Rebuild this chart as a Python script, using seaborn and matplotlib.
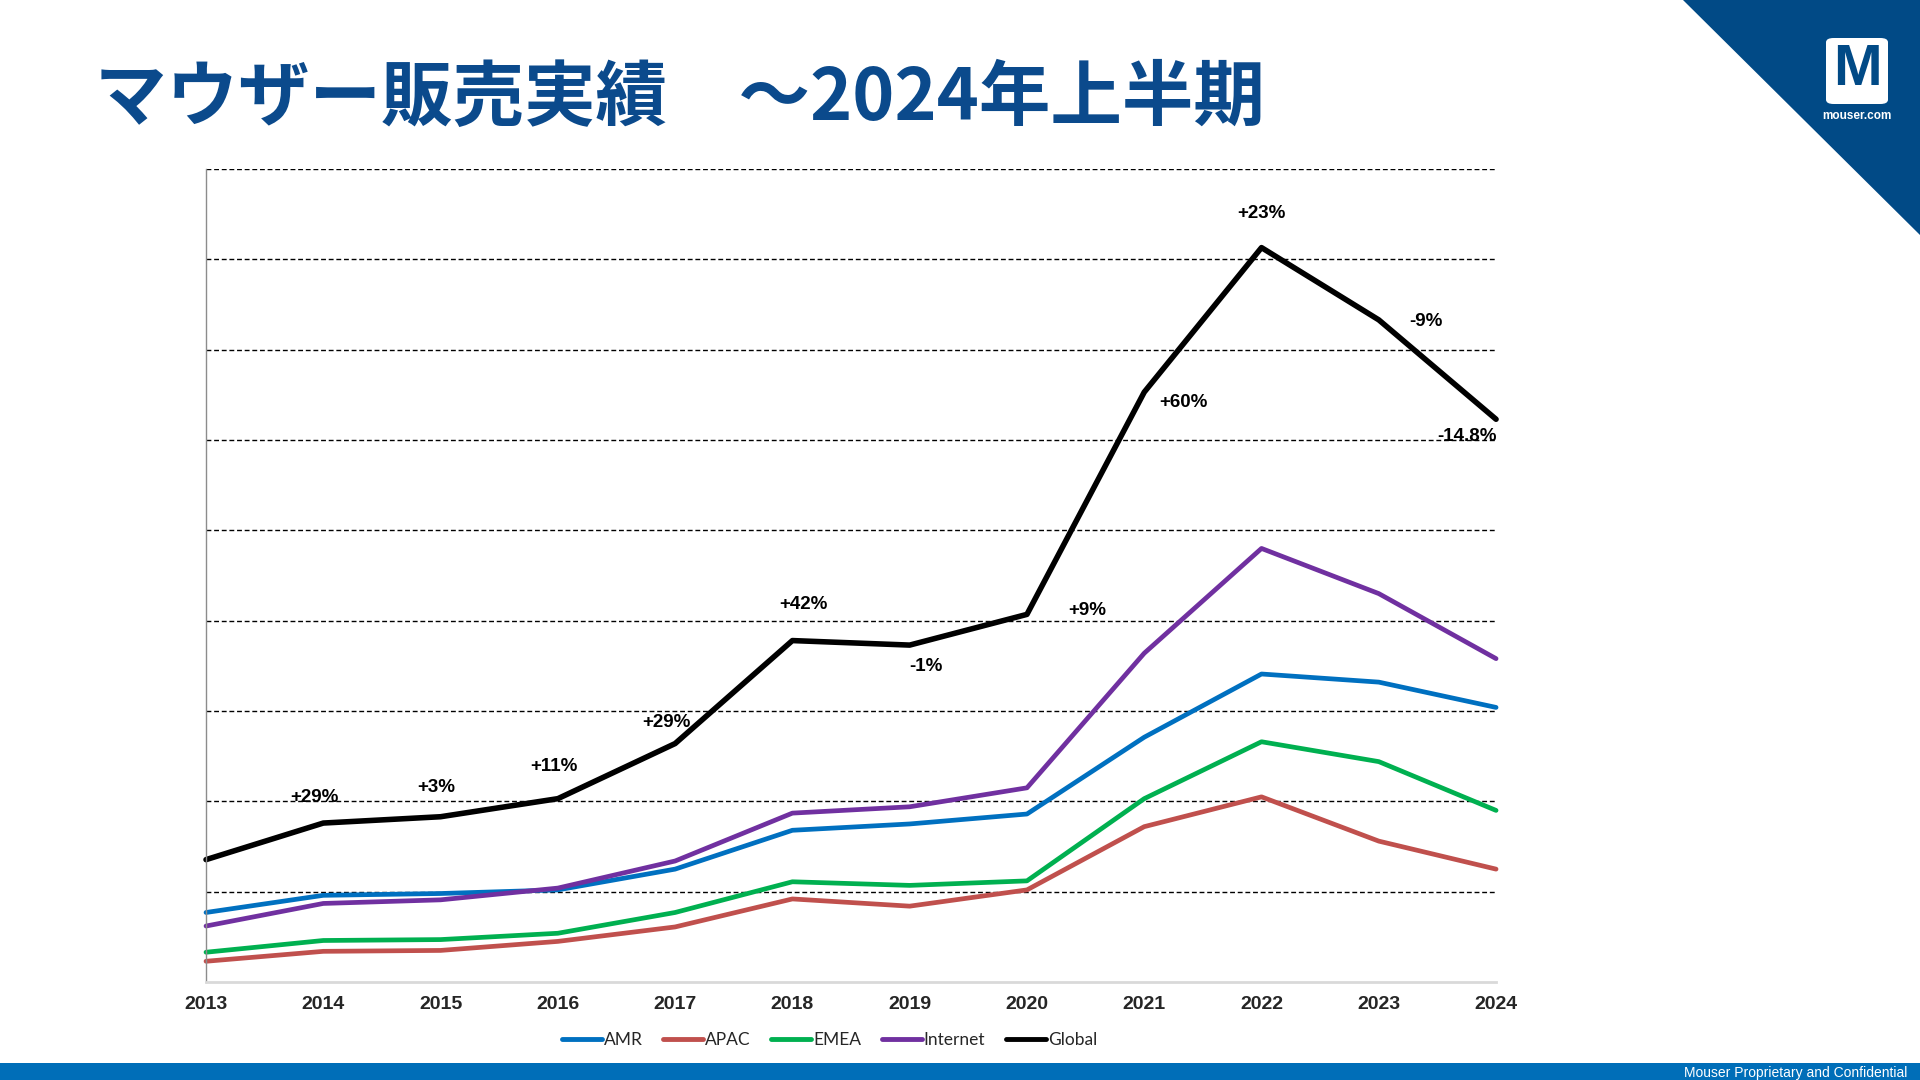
import matplotlib
matplotlib.use("Agg")
import matplotlib.pyplot as plt
import seaborn as sns
import pandas as pd
from matplotlib.patches import Polygon, Rectangle, FancyBboxPatch

# ---------------- data ----------------
years = [2013, 2014, 2015, 2016, 2017, 2018, 2019, 2020, 2021, 2022, 2023, 2024]
amr      = [0.77, 0.96, 0.98, 1.02, 1.25, 1.68, 1.75, 1.86, 2.71, 3.41, 3.32, 3.04]
apac     = [0.23, 0.34, 0.35, 0.45, 0.61, 0.92, 0.84, 1.02, 1.72, 2.05, 1.56, 1.25]
emea     = [0.33, 0.46, 0.47, 0.54, 0.77, 1.11, 1.07, 1.12, 2.03, 2.66, 2.44, 1.90]
internet = [0.62, 0.87, 0.91, 1.04, 1.34, 1.87, 1.94, 2.15, 3.64, 4.80, 4.30, 3.58]
global_  = [1.355, 1.76, 1.83, 2.03, 2.64, 3.78, 3.73, 4.07, 6.53, 8.13, 7.33, 6.23]
series_names = ["AMR", "APAC", "EMEA", "Internet", "Global"]
growth_labels = ["+29%", "+3%", "+11%", "+29%", "+42%", "-1%", "+9%", "+60%", "+23%", "-9%", "-14.8%"]
title_text = "マウザー販売実績　～2024年上半期"

# ---------------- style ----------------
colors = {"AMR": "#0070C0", "APAC": "#C0504D", "EMEA": "#00B050",
          "Internet": "#7030A0", "Global": "#000000"}
widths = {"AMR": 3.4, "APAC": 3.4, "EMEA": 3.4, "Internet": 3.4, "Global": 4.0}
# label offsets (pixels) relative to the Global point of each year 2014..2024
label_offsets = [(-9, 26), (-4, 29), (-4, 32), (-9, 21), (11, 36), (16, -21),
                 (60, 4), (39, -10), (0, 34), (47, -2), (-29, -17)]

sns.set_theme(style="white")
plt.rcParams['font.family'] = ['Liberation Sans', 'DejaVu Sans']

fig = plt.figure(figsize=(19.2, 10.8), dpi=100)
fig.patch.set_facecolor("white")
ax = fig.add_axes([0.1073, 0.0907, 0.6719, 0.7528])

values = {"AMR": amr, "APAC": apac, "EMEA": emea, "Internet": internet, "Global": global_}
df = pd.DataFrame([(y, n, v) for n in series_names for y, v in zip(years, values[n])],
                  columns=["year", "series", "value"])

for n in series_names:
    sub = df[df["series"] == n]
    sns.lineplot(data=sub, x="year", y="value", color=colors[n], linewidth=widths[n],
                 label=n, ax=ax, clip_on=False, solid_joinstyle="round", legend=False)

ax.set_xlim(2013, 2024)
ax.set_ylim(0, 9)
ax.set_yticks(range(1, 10))
ax.set_yticklabels([])
ax.yaxis.grid(True, color="black", linestyle=(0, (3.5, 2)), linewidth=1.0)
ax.xaxis.grid(False)
ax.set_xlabel("")
ax.set_ylabel("")
ax.set_xticks(years)
ax.set_xticklabels([str(y) for y in years], fontweight="bold", fontsize=14,
                   color="#262626", family=['Liberation Sans Narrow', 'Liberation Sans'])
ax.tick_params(axis="both", length=0)
ax.tick_params(axis="x", pad=10)
for s in ["top", "right"]:
    ax.spines[s].set_visible(False)
ax.spines["left"].set_color("#8c8c8c")
ax.spines["left"].set_linewidth(1.0)
ax.spines["bottom"].set_color("#d9d9d9")
ax.spines["bottom"].set_linewidth(2.0)

for lab, yr, val, off in zip(growth_labels, years[1:], global_[1:], label_offsets):
    ax.annotate(lab, (yr, val), xytext=off, textcoords="offset pixels",
                ha="center", va="center", fontsize=13.5, fontweight="bold", color="black")

handles, labels = ax.get_legend_handles_labels()
leg = fig.legend(handles, labels, loc="center", bbox_to_anchor=(0.432, 0.037),
                 ncol=5, frameon=False, handlelength=2.3, handletextpad=0.1,
                 columnspacing=1.2, prop={"family": "Lato", "size": 12.5})
for t in leg.get_texts():
    t.set_color("#262626")
for h in leg.legend_handles:
    h.set_linewidth(3.5)
    h.set_solid_capstyle("round")

# title
fig.text(95 / 1920, 1 - 99 / 1080, title_text, fontsize=51.5, fontweight="bold",
         color="#0B4A8C", va="center", ha="left",
         family=["Noto Sans CJK JP", "DejaVu Sans"])

# logo triangle
tri = Polygon([(1683 / 1920, 1.0), (1.0, 1.0), (1.0, 1 - 235 / 1080)], closed=True,
              transform=fig.transFigure, facecolor="#014A86", edgecolor="none")
fig.patches.append(tri)
box = FancyBboxPatch((1826 / 1920, 1 - 104 / 1080), 62 / 1920, 66 / 1080,
                     boxstyle="round,pad=0.0,rounding_size=0.004",
                     transform=fig.transFigure, facecolor="white", edgecolor="none")
fig.patches.append(box)
fig.text(1857 / 1920, 1 - 70 / 1080, "M", fontsize=42, fontweight="bold", color="#014A86",
         ha="center", va="center", family=["Liberation Sans Narrow", "Liberation Sans"])
fig.text(1857 / 1920, 1 - 116 / 1080, "mouser.com", fontsize=8.5, fontweight="bold",
         color="white", ha="center", va="center")

# footer bar
bar = Rectangle((0, 0), 1, 17 / 1080, transform=fig.transFigure,
                facecolor="#006EB8", edgecolor="none")
fig.patches.append(bar)
fig.text(1907 / 1920, 7 / 1080, "Mouser Proprietary and Confidential", fontsize=10,
         color="white", ha="right", va="center")

fig.savefig("out.png", dpi=100, facecolor="white")
